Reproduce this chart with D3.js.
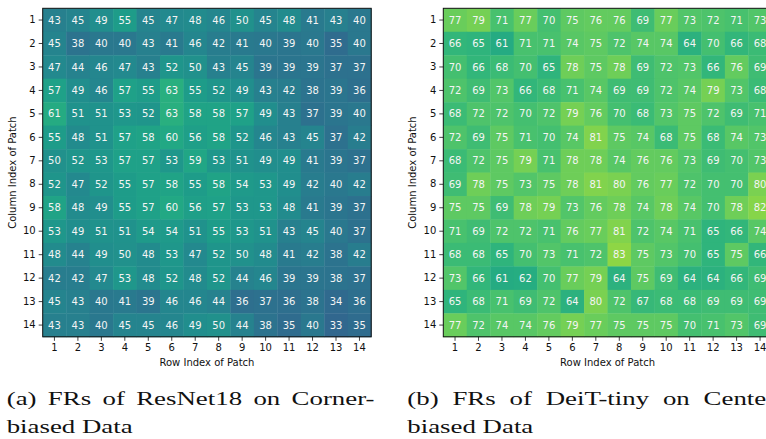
<!DOCTYPE html>
<html>
<head>
<meta charset="utf-8">
<script src="https://cdn.jsdelivr.net/npm/d3@7"></script>
<style>
  body { margin: 0; background: #fff; }
  svg { display: block; }
</style>
</head>
<body>
<script>
// patch indices 1..14
var indices = d3.range(1, 15);

// FRs of ResNet18 on corner-biased data (rows = column index, cols = row index)
var resnetFR = [
  [43,45,49,55,45,47,48,46,50,45,48,41,43,40],
  [45,38,40,40,43,41,46,42,41,40,39,40,35,40],
  [47,44,46,47,43,52,50,43,45,39,39,39,37,37],
  [57,49,46,57,55,63,55,52,49,43,42,38,39,36],
  [61,51,51,53,52,63,58,58,57,49,43,37,39,40],
  [55,48,51,57,58,60,56,58,52,46,43,45,37,42],
  [50,52,53,57,57,53,59,53,51,49,49,41,39,37],
  [52,47,52,55,57,58,55,58,54,53,49,42,40,42],
  [58,48,49,55,57,60,56,57,53,53,48,41,39,37],
  [53,49,51,51,54,54,51,55,53,51,43,45,40,37],
  [48,44,49,50,48,53,47,52,50,48,41,42,38,42],
  [42,42,47,53,48,52,48,52,44,46,39,39,38,37],
  [45,43,40,41,39,46,46,44,36,37,36,38,34,36],
  [43,43,40,45,45,46,49,50,44,38,35,40,33,35]
];

// FRs of DeiT-tiny on center-biased data
var deitFR = [
  [77,79,71,77,70,75,76,76,69,77,73,72,71,73],
  [66,65,61,71,71,74,75,72,74,74,64,70,66,68],
  [70,66,68,70,65,78,75,78,69,72,73,66,76,69],
  [72,69,73,66,68,71,74,69,69,72,74,79,73,68],
  [68,72,72,70,72,79,76,70,68,73,75,72,69,71],
  [72,69,75,71,70,74,81,75,74,68,75,68,74,73],
  [68,72,75,79,71,78,78,74,76,76,73,69,70,73],
  [69,78,75,73,75,78,81,80,76,77,72,70,70,80],
  [75,75,69,78,79,73,76,78,74,78,74,70,78,82],
  [71,69,72,72,71,76,77,81,72,74,71,65,66,74],
  [68,68,65,70,73,71,72,83,75,73,70,65,75,66],
  [73,66,61,62,70,77,79,64,75,69,64,64,66,69],
  [65,68,71,69,72,64,80,72,67,68,68,69,69,69],
  [77,72,74,74,76,79,77,75,75,75,70,71,73,69]
];

var captions = [
  ["(a) FRs of ResNet18 on Corner-", "biased Data"],
  ["(b) FRs of DeiT-tiny on Center", "biased Data"]
];

var width = 766, height = 439;
var plotSize = 328.5;
var plotTop = 8.3;

var color = d3.scaleSequential(d3.interpolateViridis).domain([0, 100]);

var svg = d3.select("body").append("svg")
  .attr("width", width)
  .attr("height", height)
  .style("font-family", "'DejaVu Sans', sans-serif");

svg.append("rect").attr("width", width).attr("height", height).attr("fill", "#fff");

function heatmap(data, left, caption) {
  var x = d3.scaleBand().domain(indices).range([left, left + plotSize]);
  var y = d3.scaleBand().domain(indices).range([plotTop, plotTop + plotSize]);

  var g = svg.append("g");

  var cells = [];
  data.forEach(function(row, i) {
    row.forEach(function(v, j) {
      cells.push({ r: indices[i], c: indices[j], v: v });
    });
  });

  g.selectAll("rect.cell")
    .data(cells)
    .enter()
    .append("rect")
    .attr("class", "cell")
    .attr("x", function(d) { return x(d.c); })
    .attr("y", function(d) { return y(d.r); })
    .attr("width", x.bandwidth() + 0.4)
    .attr("height", y.bandwidth() + 0.4)
    .attr("fill", function(d) { return color(d.v); });

  g.selectAll("text.val")
    .data(cells)
    .enter()
    .append("text")
    .attr("class", "val")
    .attr("x", function(d) { return x(d.c) + x.bandwidth() / 2; })
    .attr("y", function(d) { return y(d.r) + y.bandwidth() / 2; })
    .attr("dy", "0.36em")
    .attr("text-anchor", "middle")
    .attr("font-size", 10)
    .attr("fill", "#f4f4f4")
    .text(function(d) { return d.v; });

  // frame
  g.append("rect")
    .attr("x", left)
    .attr("y", plotTop)
    .attr("width", plotSize)
    .attr("height", plotSize)
    .attr("fill", "none")
    .attr("stroke", "#111")
    .attr("stroke-width", 1);

  var yAxis = g.append("g")
    .attr("transform", "translate(" + left + ",0)")
    .call(d3.axisLeft(y).tickSize(4).tickPadding(3));
  var xAxis = g.append("g")
    .attr("transform", "translate(0," + (plotTop + plotSize) + ")")
    .call(d3.axisBottom(x).tickSize(4).tickPadding(3));

  [xAxis, yAxis].forEach(function(a) {
    a.select(".domain").remove();
    a.selectAll("text").attr("font-size", 10).attr("fill", "#111")
      .style("font-family", "'DejaVu Sans', sans-serif");
    a.selectAll("line").attr("stroke", "#111").attr("stroke-width", 0.8);
  });

  g.append("text")
    .attr("x", left + plotSize / 2)
    .attr("y", 366)
    .attr("text-anchor", "middle")
    .attr("font-size", 10)
    .attr("fill", "#111")
    .text("Row Index of Patch");

  g.append("text")
    .attr("transform", "translate(" + (left - 27) + "," + (plotTop + plotSize / 2) + ") rotate(-90)")
    .attr("text-anchor", "middle")
    .attr("font-size", 10)
    .attr("fill", "#111")
    .text("Column Index of Patch");

  // caption: glyphs widened to mimic the LaTeX font, first line justified
  var capX = left - 36;
  var cap = svg.append("g")
    .style("font-family", "'Liberation Serif', 'DejaVu Serif', serif")
    .attr("font-size", 19)
    .attr("fill", "#111");
  var line2 = cap.append("text").attr("y", 433).text(caption[1]);
  var sx = 126 / line2.node().getComputedTextLength();
  var line1 = cap.append("text").attr("y", 405).text(caption[0]);
  var natural = line1.node().getComputedTextLength();
  var gaps = caption[0].split(" ").length - 1;
  line1.attr("word-spacing", Math.max(0, (368 / sx - natural) / gaps));
  cap.attr("transform", "translate(" + capX + ",0) scale(" + sx + ",1)");
}

heatmap(resnetFR, 42.7, captions[0]);
heatmap(deitFR, 443.3, captions[1]);
</script>
</body>
</html>
